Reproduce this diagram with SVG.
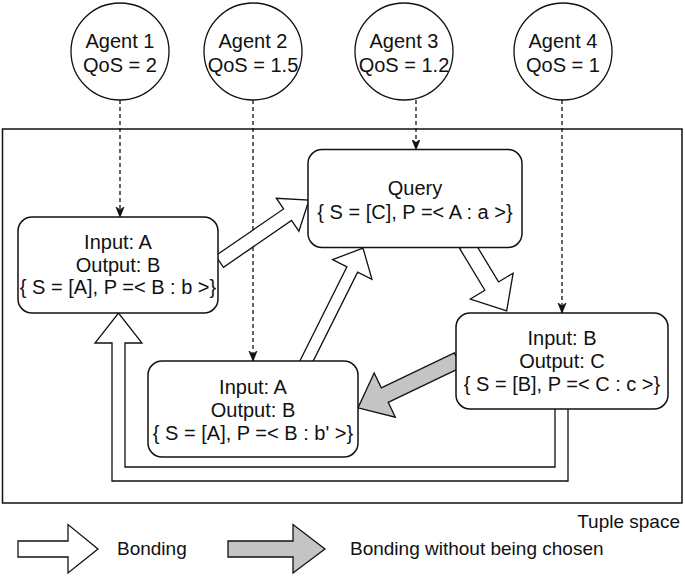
<svg xmlns="http://www.w3.org/2000/svg" width="685" height="576" viewBox="0 0 685 576">
<style>
text{font-family:"Liberation Sans",Arial,sans-serif;font-size:20px;fill:#111;text-anchor:middle}
.lg{font-size:19px;text-anchor:start}
.agent{fill:#fff;stroke:#111;stroke-width:1.3}
.node{fill:#fff;stroke:#111;stroke-width:1.5}
.dash{fill:none;stroke:#111;stroke-width:1.3;stroke-dasharray:4 3}
.blk{fill:#fff;stroke:#111;stroke-width:1.3;stroke-linejoin:miter}
.gray{fill:#c4c4c4}
</style>
<defs>
<marker id="ah" viewBox="0 0 10 10" refX="10" refY="5" markerWidth="10" markerHeight="10" markerUnits="userSpaceOnUse" orient="auto">
<path d="M0,1 L10,5 L0,9 L3,5 z" fill="#111" stroke="#111" stroke-width="0.8"/>
</marker>
</defs>
<rect id="tuple-space" x="2.5" y="129" width="679.5" height="374" fill="none" stroke="#111" stroke-width="1.5"/>
<g id="connectors">
<line class="dash" x1="120" y1="100" x2="120" y2="217" marker-end="url(#ah)"/>
<line class="dash" x1="253" y1="100" x2="253" y2="361" marker-end="url(#ah)"/>
<line class="dash" x1="416" y1="100" x2="416" y2="149.5" marker-end="url(#ah)"/>
<line class="dash" x1="562" y1="100" x2="562" y2="313" marker-end="url(#ah)"/>
<polygon class="blk" transform="translate(219.5,261.5) rotate(-34.5)" points="0,-7 82.6,-7 82.6,-20 108.6,0 82.6,20 82.6,7 0,7"/>
<polygon class="blk" transform="translate(466.5,244.3) rotate(58.9)" points="0,-8 48.8,-8 48.8,-25 77.8,0 48.8,25 48.8,8 0,8"/>
<polygon class="blk" transform="translate(305.2,363.7) rotate(-63.45)" points="0,-6 105.3,-6 105.3,-22 129.3,0 105.3,22 105.3,6 0,6"/>
<polygon class="blk gray" transform="translate(457.8,360.1) rotate(154.4)" points="0,-8 81,-8 81,-24.5 110.7,0 81,24.5 81,8 0,8"/>
<polygon class="blk" points="555,405 555,467 125,467 125,343 142,343 118.5,313 95,343 112,343 112,481 568,481 568,405"/>
</g>
<g id="agent1"><ellipse class="agent" cx="120" cy="51.5" rx="49" ry="48.5"/><text x="120" y="48">Agent 1</text><text x="120" y="72">QoS = 2</text></g>
<g id="agent2"><ellipse class="agent" cx="253" cy="51.5" rx="49" ry="48.5"/><text x="253" y="48">Agent 2</text><text x="253" y="72">QoS = 1.5</text></g>
<g id="agent3"><ellipse class="agent" cx="404" cy="51.5" rx="49" ry="48.5"/><text x="404" y="48">Agent 3</text><text x="404" y="72">QoS = 1.2</text></g>
<g id="agent4"><ellipse class="agent" cx="563" cy="51.5" rx="49" ry="48.5"/><text x="563" y="48">Agent 4</text><text x="563" y="72">QoS = 1</text></g>
<g id="node-ab"><rect class="node" x="18" y="217" width="200" height="96" rx="14"/><text x="118" y="249">Input: A</text><text x="118" y="271.5">Output: B</text><text x="118" y="294">{ S = [A], P =&lt; B : b &gt;}</text></g>
<g id="query"><rect class="node" x="308" y="149.5" width="214" height="98" rx="14"/><text x="415" y="195">Query</text><text x="415" y="218.5">{ S = [C], P =&lt; A : a &gt;}</text></g>
<g id="node-bc"><rect class="node" x="456" y="313" width="212" height="96" rx="14"/><text x="562" y="345">Input: B</text><text x="562" y="368">Output: C</text><text x="562" y="391">{ S = [B], P =&lt; C : c &gt;}</text></g>
<g id="node-ab2"><rect class="node" x="148" y="361" width="210" height="96" rx="14"/><text x="253" y="394">Input: A</text><text x="253" y="417">Output: B</text><text x="253" y="440">{ S = [A], P =&lt; B : b' &gt;}</text></g>
<text x="680" y="528" class="lg" style="text-anchor:end">Tuple space</text>
<g id="legend">
<polygon class="blk" points="18,541 68,541 68,524.5 98,549 68,573 68,557 18,557"/>
<text x="117" y="555" class="lg">Bonding</text>
<polygon class="blk gray" points="228,541 293,541 293,524.5 325,549 293,573 293,557 228,557"/>
<text x="350" y="555" class="lg">Bonding without being chosen</text>
</g>
</svg>
